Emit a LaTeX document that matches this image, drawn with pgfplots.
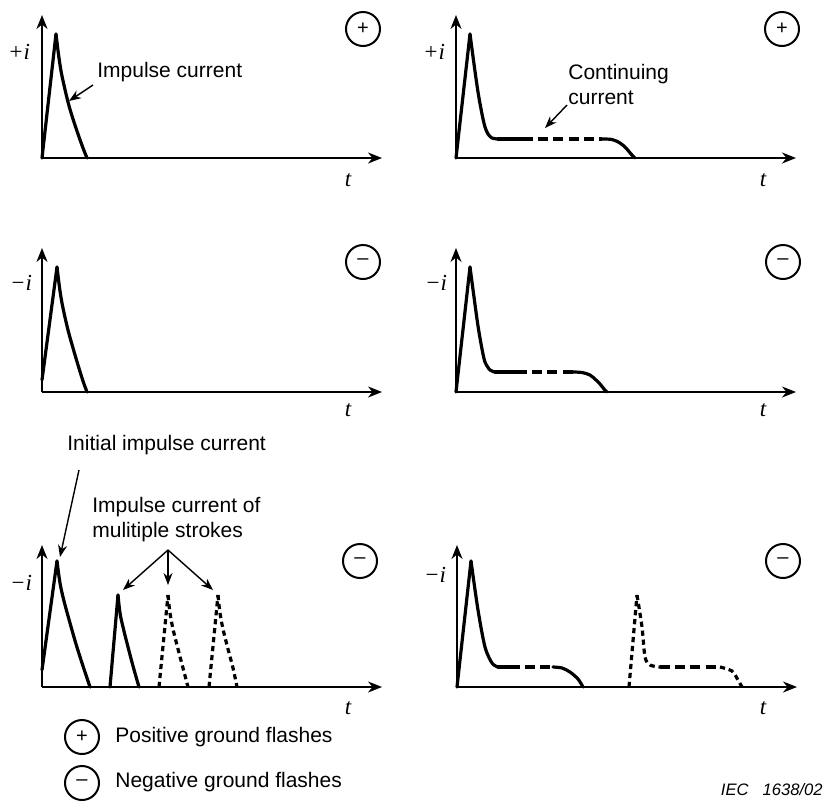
\documentclass[border=0pt]{standalone}
\usepackage{pgfplots}
\pgfplotsset{compat=1.18}
\usetikzlibrary{arrows.meta}
\usepackage{fontspec}
\setmainfont{Liberation Serif}
\newfontfamily\arial{Liberation Sans}
\pgfplotsset{
  panel/.style={scale only axis, width=170pt, xmin=0, xmax=340, ymin=0,
    axis lines=left, xtick=\empty, ytick=\empty, clip=false, anchor=south west,
    axis line style={line width=1pt, -{Stealth[length=7pt,width=5.5pt]}}},
  curve/.style={black, line width=1.6pt, no markers, line join=round, line cap=round},
  dsh/.style={dash pattern=on 5pt off 2.6pt, line cap=butt},
  sdsh/.style={dash pattern=on 2.6pt off 1.9pt, line cap=butt},
}
\tikzset{
  ann/.style={-{Stealth[length=6pt,width=4.5pt]}, line width=0.7pt},
  lbl/.style={font=\arial\fontsize{10.5}{12.5}\selectfont, inner sep=0pt},
  il/.style={font=\fontsize{11.5}{13}\selectfont\itshape, inner sep=0pt},
  sym/.style={draw, circle, line width=1pt, minimum size=17pt, inner sep=0pt, font=\arial\fontsize{10}{11}\selectfont},
}
\begin{document}
\begin{tikzpicture}[x=0.5pt,y=0.5pt]
\useasboundingbox (0,0) rectangle (825,-804);

% Panel 1: top left
\begin{axis}[panel, at={(42,-158)}, height=71.5pt, ymax=143]
\addplot[curve] coordinates {(0,0)(14,124)};
\addplot[curve, smooth, tension=0.6] coordinates {(14,124)(17,100)(20,82)(26,56)(31,39)(36,24)(41,10)(45,0)};
\node[il] at (-23,106) {+i};
\node[il] at (306,-22) {t};
\node[sym] at (321,129) {+};
\node[lbl, anchor=west] at (55,86) {Impulse current};
\draw[ann] (51,73) -- (27,57);
\end{axis}

% Panel 2: top right
\begin{axis}[panel, at={(456,-158)}, height=71.5pt, ymax=143]
\addplot[curve] coordinates {(0,0)(14,124)};
\addplot[curve, smooth, tension=0.5] coordinates {(14,124)(18,94)(22,66)(26,44)(29,31)(32,24)(36,20)(42,19)};
\addplot[curve] coordinates {(42,19)(67,19)};
\addplot[curve, dsh] coordinates {(67,19)(146,19)};
\addplot[curve, smooth] coordinates {(146,19)(156,18.5)(164,15)(170,10)(175,4)(179,0)};
\node[il] at (-22,106) {+i};
\node[il] at (307,-22) {t};
\node[sym] at (326,129) {+};
\node[lbl, anchor=west, align=left] at (112,73.5) {Continuing\\current};
\draw[ann] (111,53) -- (89,30);
\end{axis}

% Panel 3: middle left
\begin{axis}[panel, at={(42,-392)}, height=72pt, ymax=144]
\addplot[curve] coordinates {(0,12)(15,125)};
\addplot[curve, smooth, tension=0.6] coordinates {(15,125)(18,101)(21,84)(26,62)(31,44)(36,27)(41,11)(45,0)};
\node[il] at (-21,109) {−i};
\node[il] at (306,-18) {t};
\node[sym] at (321,130) {–};
\end{axis}

% Panel 4: middle right
\begin{axis}[panel, at={(456,-392)}, height=72pt, ymax=144]
\addplot[curve] coordinates {(0,0)(14,125)};
\addplot[curve, smooth, tension=0.5] coordinates {(14,125)(18,95)(22,66)(26,43)(29,30)(34,22)(39,20)};
\addplot[curve] coordinates {(39,20)(61,20)};
\addplot[curve, dsh] coordinates {(61,20)(117,20)};
\addplot[curve, smooth] coordinates {(117,20)(126,19.5)(134,17)(140,12)(144,8)(148,3)(151,0)};
\node[il] at (-20,109) {−i};
\node[il] at (307,-18) {t};
\node[sym] at (327,130) {–};
\end{axis}

% Panel 5: bottom left
\begin{axis}[panel, at={(42,-687)}, height=71pt, ymax=142]
\addplot[curve] coordinates {(0,17)(15,126)};
\addplot[curve, smooth, tension=0.6] coordinates {(15,126)(18,104)(22,86)(28,64)(34,43)(40,24)(45,9)(48,0)};
\addplot[curve] coordinates {(68,0)(76,92)};
\addplot[curve, smooth, tension=0.6] coordinates {(76,92)(78,74)(81,60)(86,40)(91,21)(97,0)};
\addplot[curve, sdsh] coordinates {(117,0)(126,92)};
\addplot[curve, sdsh, smooth, tension=0.6] coordinates {(126,92)(128,74)(131,58)(136,38)(141,19)(146,0)};
\addplot[curve, sdsh] coordinates {(167,0)(176,92)};
\addplot[curve, sdsh, smooth, tension=0.6] coordinates {(176,92)(178,74)(181,58)(186,38)(191,19)(195,0)};
\node[il] at (-21,104) {−i};
\node[il] at (306,-21) {t};
\node[sym] at (318,126) {–};
\node[lbl, anchor=west] at (25,242) {Initial impulse current};
\draw[ann] (37,217) -- (18,130);
\node[lbl, anchor=west, align=left] at (50,167) {Impulse current of\\mulitiple strokes};
\draw[ann] (126,137) -- (81,97);
\draw[ann] (126,137) -- (126,102);
\draw[ann] (126,137) -- (171,97);
% legend
\node[sym] at (40,-50) {+};
\node[lbl, anchor=west] at (73,-50) {Positive ground flashes};
\node[sym] at (40,-96) {–};
\node[lbl, anchor=west] at (73,-95) {Negative ground flashes};
\end{axis}

% Panel 6: bottom right
\begin{axis}[panel, at={(457,-687)}, height=71pt, ymax=142]
\addplot[curve] coordinates {(0,0)(14,126)};
\addplot[curve, smooth, tension=0.5] coordinates {(14,126)(21,77)(28,40)(35,24)(41,20)};
\addplot[curve] coordinates {(41,20)(53,20)};
\addplot[curve, dsh] coordinates {(53,20)(96,20)};
\addplot[curve, smooth] coordinates {(96,20)(105,19)(113,15)(121,8)(126,0)};
\addplot[curve, sdsh] coordinates {(172,0)(180,92)};
\addplot[curve, sdsh, smooth, tension=0.5] coordinates {(180,92)(185,60)(188,30)(193,22)(203,20)};
\addplot[curve, dsh] coordinates {(203,20)(263,20)};
\addplot[curve, sdsh, smooth] coordinates {(263,20)(275,16)(281,7)(285,0)};
\node[il] at (-22,112) {−i};
\node[il] at (306,-21) {t};
\node[sym] at (326,126) {–};
\node[anchor=east, inner sep=0pt, font=\arial\itshape\fontsize{8.3}{10}\selectfont] at (366,-103) {IEC\hspace{7pt}1638/02};
\end{axis}
\end{tikzpicture}
\end{document}
